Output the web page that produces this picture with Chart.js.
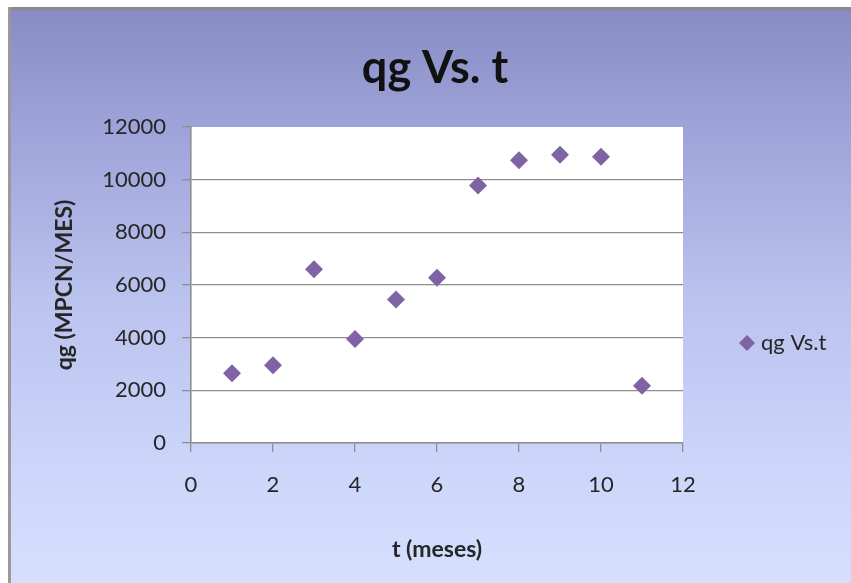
<!DOCTYPE html>
<html>
<head>
<meta charset="utf-8">
<script src="https://cdn.jsdelivr.net/npm/chart.js@4.4.1/dist/chart.umd.min.js"></script>
<style>
  html, body { margin: 0; padding: 0; background: #ffffff; }
  canvas { display: block; }
</style>
</head>
<body>
<canvas id="chart" width="851" height="583"></canvas>
<script>
// Gas rate per month
const months = [1, 2, 3, 4, 5, 6, 7, 8, 9, 10, 11];
const qg = [2650, 2950, 6600, 3950, 5450, 6280, 9780, 10740, 10950, 10870, 2170];

const xTicks = [0, 2, 4, 6, 8, 10, 12];
const yTicks = [0, 2000, 4000, 6000, 8000, 10000, 12000];

const chartTitle = 'qg Vs. t';
const seriesName = 'qg Vs.t';
const xTitle = 't (meses)';
const yTitle = 'qg (MPCN/MES)';

const markerColor = '#7f63a5';
const gridColor = '#8e8e8e';
const textColor = '#262626';
const FONT = 'Lato, "Open Sans", sans-serif';

// Frame with blue gradient fill and white plot area
const panel = {
  id: 'panel',
  beforeDraw(chart) {
    const { ctx, width, height, chartArea: a } = chart;
    ctx.save();
    ctx.fillStyle = '#ffffff';
    ctx.fillRect(0, 0, width, height);
    const g = ctx.createLinearGradient(0, 10, 0, height);
    g.addColorStop(0, '#888cc5');
    g.addColorStop(0.2, '#9da2d8');
    g.addColorStop(0.5, '#bac2ee');
    g.addColorStop(0.8, '#ccd6fa');
    g.addColorStop(1, '#d5dffd');
    ctx.fillStyle = g;
    ctx.fillRect(11, 10, width - 11, height - 10);
    ctx.fillStyle = '#8a8a8a';
    ctx.fillRect(8, 7, width - 8, 3);
    ctx.fillStyle = '#9a9a9a';
    ctx.fillRect(8, 7, 3, height - 7);
    ctx.fillStyle = '#ffffff';
    ctx.fillRect(a.left, a.top, a.right - a.left, a.bottom - a.top);
    ctx.restore();
  }
};

// Chart heading and legend entry
const captions = {
  id: 'captions',
  afterDraw(chart) {
    const { ctx, chartArea: a } = chart;
    const ds = chart.data.datasets[0];
    ctx.save();
    ctx.fillStyle = '#111111';
    ctx.font = 'bold 45px ' + FONT;
    ctx.textAlign = 'center';
    ctx.textBaseline = 'alphabetic';
    ctx.fillText(chartTitle, 435, 83);

    const x = a.right + 64, y = 343, r = 8;
    ctx.fillStyle = ds.backgroundColor;
    ctx.beginPath();
    ctx.moveTo(x - r, y);
    ctx.lineTo(x, y - r);
    ctx.lineTo(x + r, y);
    ctx.lineTo(x, y + r);
    ctx.closePath();
    ctx.fill();
    ctx.fillStyle = textColor;
    ctx.font = '22px ' + FONT;
    ctx.textBaseline = 'middle';
    ctx.textAlign = 'left';
    ctx.fillText(ds.label, x + 14, y);
    ctx.restore();
  }
};

new Chart(document.getElementById('chart'), {
  type: 'scatter',
  data: {
    datasets: [{
      label: seriesName,
      data: months.map((m, i) => ({ x: m, y: qg[i] })),
      pointStyle: 'rectRot',
      pointRadius: 9,
      pointHoverRadius: 9,
      backgroundColor: markerColor,
      borderColor: markerColor,
      borderWidth: 0
    }]
  },
  options: {
    responsive: false,
    animation: false,
    devicePixelRatio: 1,
    layout: { padding: { top: 127, left: 11, right: 168, bottom: 0 } },
    plugins: {
      legend: { display: false },
      tooltip: { enabled: false },
      title: { display: false }
    },
    scales: {
      x: {
        type: 'linear',
        min: 0, max: 12,
        afterBuildTicks: s => { s.ticks = xTicks.map(v => ({ value: v })); },
        afterFit: s => { s.height = 140; },
        grid: { drawOnChartArea: false, drawTicks: true, tickLength: 9, tickColor: gridColor, lineWidth: 1.3 },
        border: { display: true, color: gridColor, width: 1.6 },
        ticks: { color: textColor, font: { family: FONT, size: 22 }, padding: 20, maxRotation: 0, callback: v => String(v) },
        title: {
          display: true, text: xTitle, color: textColor,
          font: { family: FONT, size: 23, weight: 'bold', lineHeight: 1.2 },
          padding: { top: 0, bottom: 20 }
        }
      },
      y: {
        min: 0, max: 12000,
        afterBuildTicks: s => { s.ticks = yTicks.map(v => ({ value: v })); },
        afterFit: s => { s.width = 180; },
        grid: {
          color: c => (c.tick && c.tick.value === 12000 ? 'rgba(0,0,0,0)' : gridColor),
          tickColor: gridColor, drawTicks: true, tickLength: 9, lineWidth: 1.3
        },
        border: { display: true, color: gridColor, width: 1.6 },
        ticks: { color: textColor, font: { family: FONT, size: 22 }, padding: 16, callback: v => String(v) },
        title: {
          display: true, text: yTitle, color: textColor,
          font: { family: FONT, size: 23, weight: 'bold', lineHeight: 1.2 },
          padding: { top: 40, bottom: 0 }
        }
      }
    }
  },
  plugins: [panel, captions]
});
</script>
</body>
</html>
